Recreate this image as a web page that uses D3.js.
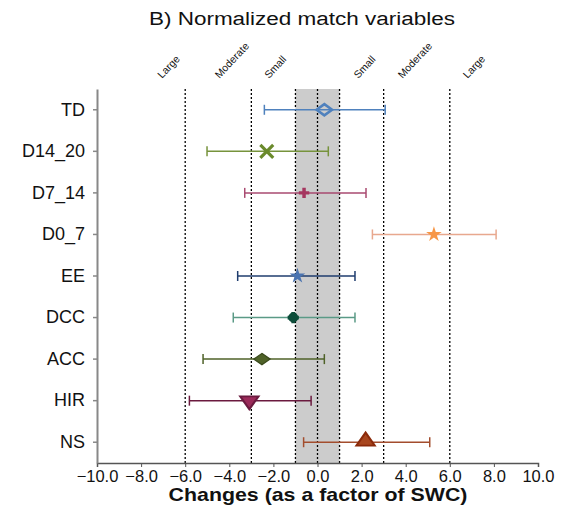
<!DOCTYPE html>
<html>
<head>
<meta charset="utf-8">
<script src="https://cdn.jsdelivr.net/npm/d3@7"></script>
<style>
  body { margin: 0; background: #fff; }
  svg { font-family: "Liberation Sans", Arial, sans-serif; }
</style>
</head>
<body>
<div id="chart"></div>
<script>
// data
var variables = ["TD", "D14_20", "D7_14", "D0_7", "EE", "DCC", "ACC", "HIR", "NS"];
var means = [0.31, -2.30, -0.61, 5.28, -0.91, -1.10, -2.52, -3.09, 2.18];
var lower = [-2.41, -5.01, -3.30, 2.49, -3.62, -3.82, -5.19, -5.81, -0.63];
var upper = [3.07, 0.49, 2.20, 8.10, 1.70, 1.70, 0.31, -0.29, 5.09];
var xTicks = [-10, -8, -6, -4, -2, 0, 2, 4, 6, 8, 10];
var thresholds = [-6, -3, -1, 0, 1, 3, 6];
var bandLabels = ["Large", "Moderate", "Small", "Small", "Moderate", "Large"];
var bandLabelPos = [-7.05, -4.45, -2.2, 1.85, 3.85, 6.8];

var lineColors = ["#4f81bd", "#77933c", "#a94a70", "#e8a88e", "#1f3d6e", "#5a9a86", "#4f6228", "#6b1a3f", "#a34d2d"];
var markColors = ["#4f81bd", "#6a8a2c", "#a5365f", "#f79646", "#4a73b0", "#0d4d3a", "#4f6228", "#9b2a5a", "#8b2a0a"];
var shapes = ["diamondOpen", "x", "plus", "star", "star", "circle", "diamond", "triDown", "triUp"];

function init() {
    var w = 561, h = 505;
    var left = 97, right = 538, top = 89, bottom = 463;

    var svg = d3.select("#chart").append("svg")
        .attr("width", w)
        .attr("height", h);

    var x = d3.scaleLinear().domain([-10, 10]).range([left, right]);
    var y = d3.scaleBand().domain(variables).range([top, bottom]).padding(0);

    // grey zone
    svg.append("rect")
        .attr("x", x(-1))
        .attr("y", top)
        .attr("width", x(1) - x(-1))
        .attr("height", bottom - top)
        .attr("fill", "#cccccc");

    svg.selectAll("line.thr")
        .data(thresholds)
        .enter()
        .append("line")
        .attr("class", "thr")
        .attr("x1", function(d) { return x(d); })
        .attr("x2", function(d) { return x(d); })
        .attr("y1", top)
        .attr("y2", bottom)
        .attr("stroke", "#000")
        .attr("stroke-width", 1.3)
        .attr("stroke-dasharray", "2,2");

    svg.selectAll("text.band")
        .data(bandLabels)
        .enter()
        .append("text")
        .attr("class", "band")
        .attr("transform", function(d, i) {
            return "translate(" + x(bandLabelPos[i]) + ",79) rotate(-47)";
        })
        .attr("font-size", 10.5)
        .attr("fill", "#111")
        .text(function(d) { return d; });

    // axes
    var xAxis = svg.append("g")
        .attr("transform", "translate(0," + bottom + ")")
        .call(d3.axisBottom(x).tickValues(xTicks).tickSize(4).tickFormat(d3.format(".1f")));
    xAxis.select(".domain").attr("stroke", "#555").attr("stroke-width", 1.5);
    xAxis.selectAll(".tick line").attr("stroke", "#555");
    xAxis.selectAll("text")
        .attr("font-size", 16.5)
        .attr("font-family", "Liberation Sans, Arial, sans-serif")
        .attr("fill", "#111")
        .attr("dy", "0.75em");

    var yAxis = svg.append("g")
        .attr("transform", "translate(" + left + ",0)")
        .call(d3.axisLeft(y).tickSize(4).tickSizeOuter(0));
    yAxis.select(".domain").attr("stroke", "#888").attr("stroke-width", 2);
    yAxis.selectAll(".tick line").attr("stroke", "#888").attr("stroke-width", 1.5);
    yAxis.selectAll("text")
        .attr("font-size", 18)
        .attr("font-family", "Liberation Sans, Arial, sans-serif")
        .attr("fill", "#111")
        .attr("x", -12);

    // error bars
    var rows = svg.selectAll("g.row")
        .data(variables)
        .enter()
        .append("g")
        .attr("class", "row")
        .attr("transform", function(d) { return "translate(0," + (y(d) + y.bandwidth() / 2) + ")"; });

    rows.append("line")
        .attr("x1", function(d, i) { return x(lower[i]); })
        .attr("x2", function(d, i) { return x(upper[i]); })
        .attr("stroke", function(d, i) { return lineColors[i]; })
        .attr("stroke-width", 1.5);
    rows.append("line")
        .attr("x1", function(d, i) { return x(lower[i]); })
        .attr("x2", function(d, i) { return x(lower[i]); })
        .attr("y1", -5).attr("y2", 5)
        .attr("stroke", function(d, i) { return lineColors[i]; })
        .attr("stroke-width", 1.5);
    rows.append("line")
        .attr("x1", function(d, i) { return x(upper[i]); })
        .attr("x2", function(d, i) { return x(upper[i]); })
        .attr("y1", -5).attr("y2", 5)
        .attr("stroke", function(d, i) { return lineColors[i]; })
        .attr("stroke-width", 1.5);

    // markers
    rows.each(function(d, i) {
        var g = d3.select(this).append("g").attr("transform", "translate(" + x(means[i]) + ",0)");
        var c = markColors[i];
        var s = shapes[i];
        if (s == "diamondOpen") {
            g.append("path").attr("d", d3.symbol(d3.symbolDiamond2, 90)()).attr("transform", "scale(1.3,0.95)")
                .attr("fill", "none").attr("stroke", c).attr("stroke-width", 2.4);
        } else if (s == "x") {
            g.append("path").attr("d", d3.symbol(d3.symbolTimes, 110)())
                .attr("fill", "none").attr("stroke", c).attr("stroke-width", 3.2);
        } else if (s == "plus") {
            g.append("path").attr("d", d3.symbol(d3.symbolCross, 60)()).attr("fill", c);
        } else if (s == "star") {
            g.append("path").attr("d", d3.symbol(d3.symbolStar, 75)()).attr("fill", c);
        } else if (s == "circle") {
            g.append("path").attr("d", d3.symbol(d3.symbolCircle, 80)()).attr("fill", c);
            g.append("path").attr("d", d3.symbol(d3.symbolCross, 70)()).attr("fill", c);
        } else if (s == "diamond") {
            g.append("path").attr("d", d3.symbol(d3.symbolDiamond2, 100)()).attr("transform", "scale(1.3,0.9)")
                .attr("fill", c).attr("stroke", "#3a4a1c").attr("stroke-width", 1.2);
        } else if (s == "triDown") {
            g.append("path").attr("d", d3.symbol(d3.symbolTriangle, 120)()).attr("transform", "rotate(180) scale(1.1,0.9)")
                .attr("fill", c).attr("stroke", "#6b1a3f").attr("stroke-width", 2);
        } else if (s == "triUp") {
            g.append("path").attr("d", d3.symbol(d3.symbolTriangle, 120)()).attr("transform", "translate(0,-1) scale(1.1,0.9)")
                .attr("fill", "#a8461e").attr("stroke", c).attr("stroke-width", 2);
        }
    });

    // titles
    svg.append("text")
        .attr("transform", "translate(302,25) scale(1.25,1)")
        .attr("text-anchor", "middle")
        .attr("font-size", 18)
        .attr("fill", "#111")
        .text("B) Normalized match variables");

    svg.append("text")
        .attr("transform", "translate(318,501) scale(1.22,1)")
        .attr("text-anchor", "middle")
        .attr("font-size", 17.5)
        .attr("font-weight", "bold")
        .attr("fill", "#111")
        .text("Changes (as a factor of SWC)");
}

window.onload = init;
</script>
</body>
</html>
